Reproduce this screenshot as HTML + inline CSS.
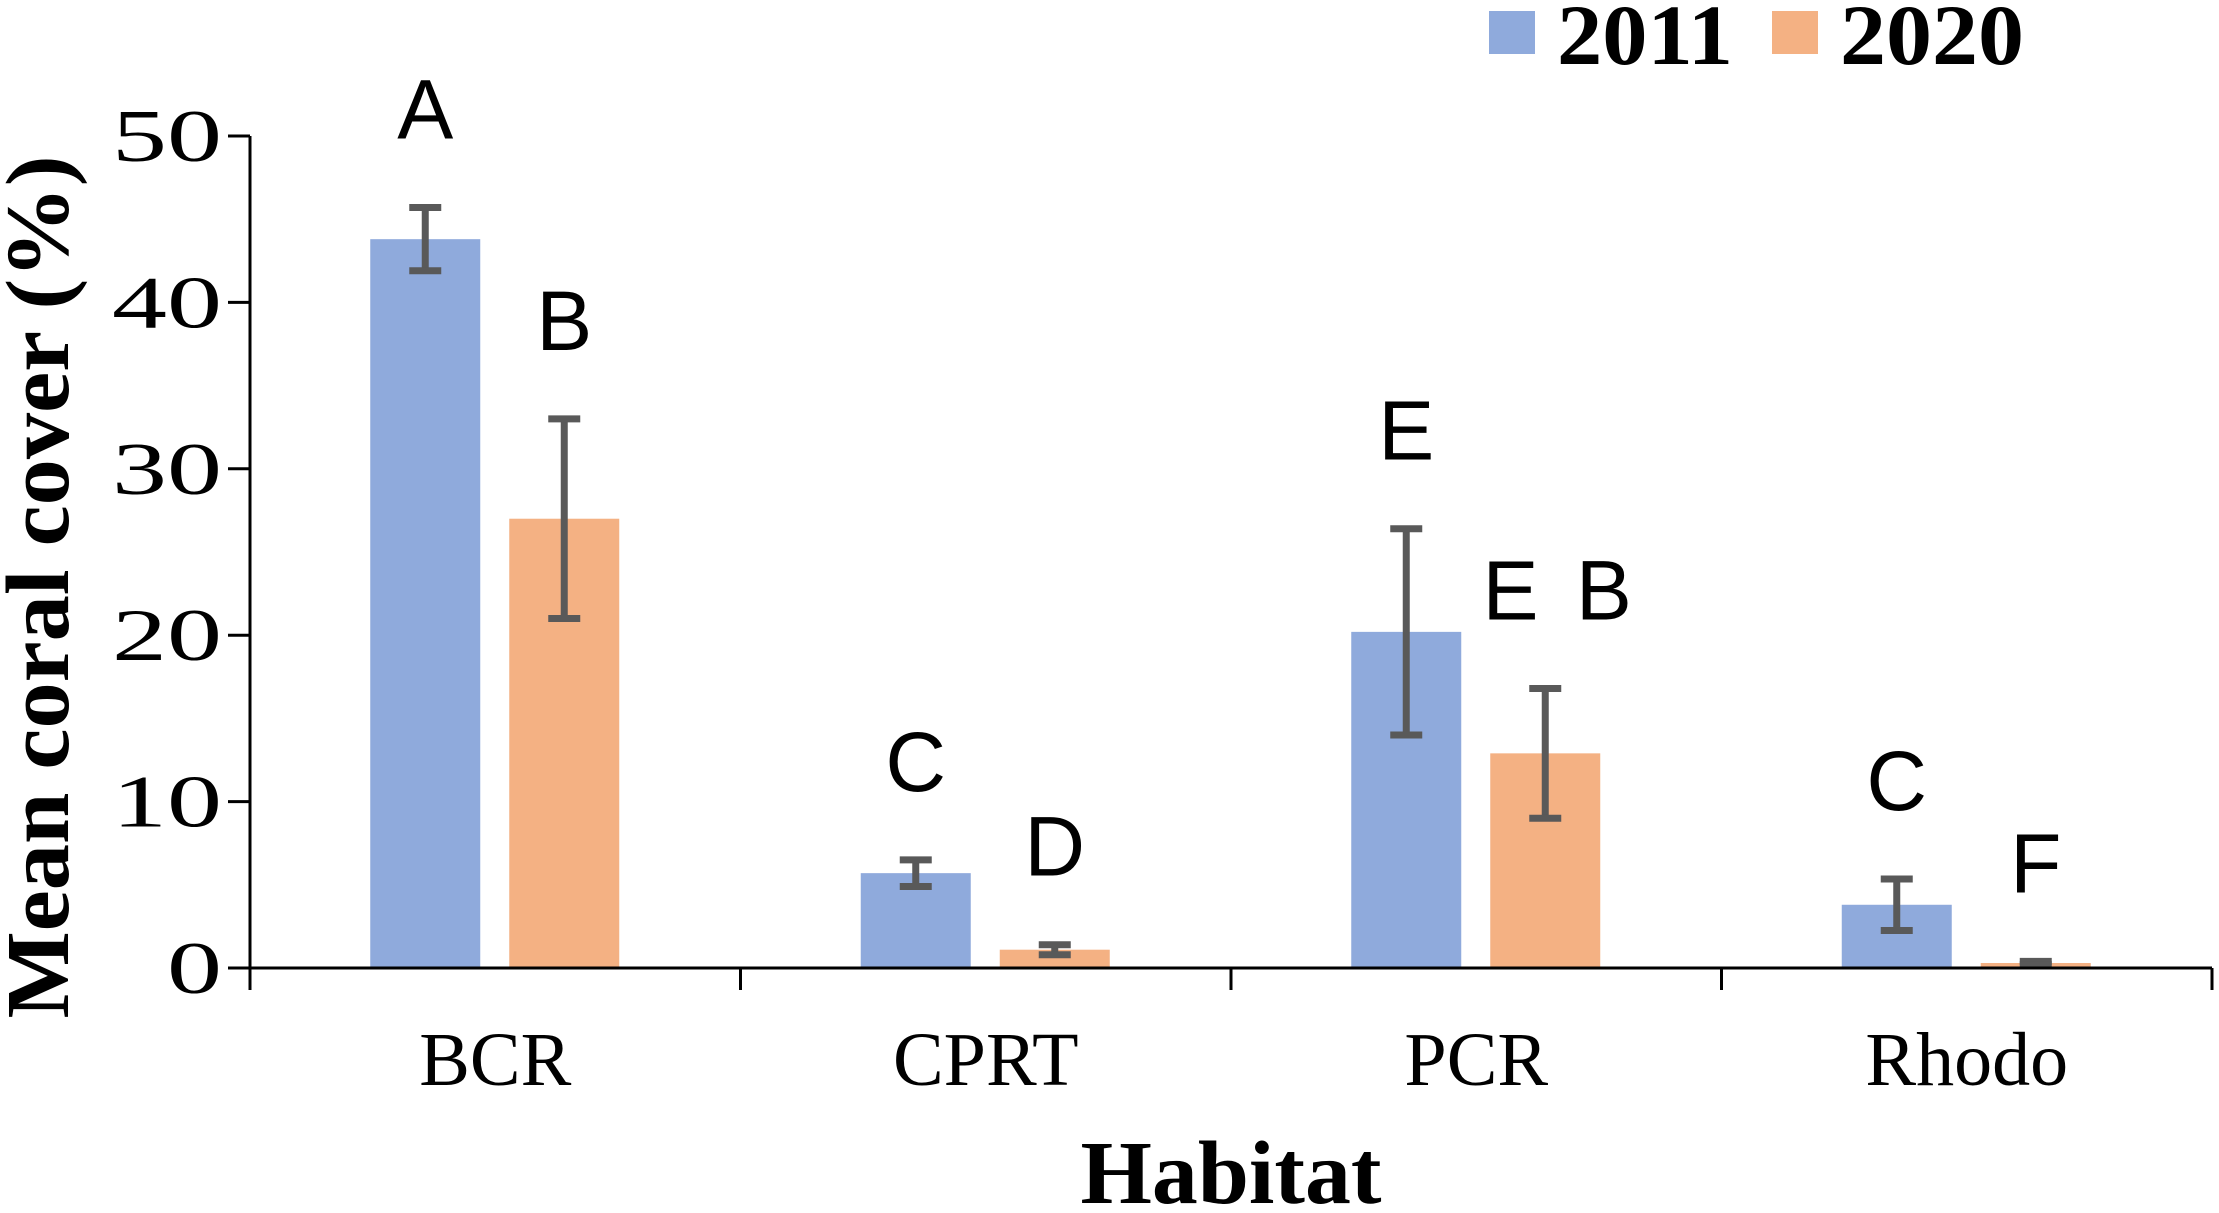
<!DOCTYPE html>
<html><head><meta charset="utf-8"><style>
html,body{margin:0;padding:0;background:#fff;}
svg{display:block;}
</style></head><body>
<svg id="chart" width="2219" height="1213" viewBox="0 0 2219 1213" xmlns="http://www.w3.org/2000/svg">
<g id="bars"></g>
<g id="axes"></g>
<g id="labels"></g>
<text transform="translate(68,587) rotate(-90)" text-anchor="middle" font-family="Liberation Serif, serif" font-weight="bold" font-size="90" textLength="863" lengthAdjust="spacingAndGlyphs">Mean coral cover (%)</text>
<text x="1231" y="1203" text-anchor="middle" font-family="Liberation Serif, serif" font-weight="bold" font-size="90" textLength="301" lengthAdjust="spacingAndGlyphs">Habitat</text>
<g>
<rect x="1489" y="11" width="46" height="43" fill="#8faadc"/>
<text x="1557" y="64" font-family="Liberation Serif, serif" font-weight="bold" font-size="86" textLength="176" lengthAdjust="spacingAndGlyphs">2011</text>
<rect x="1772" y="11" width="46" height="43" fill="#f4b183"/>
<text x="1840" y="64" font-family="Liberation Serif, serif" font-weight="bold" font-size="86" textLength="184" lengthAdjust="spacingAndGlyphs">2020</text>
</g>
</svg>
<script>
const categories = ["BCR", "CPRT", "PCR", "Rhodo"];
const values2011 = [43.8, 5.7, 20.2, 3.8];
const values2020 = [27.0, 1.1, 12.9, 0.3];
const err2011 = [1.9, 0.8, 6.2, 1.55];
const err2020 = [6.0, 0.3, 3.9, 0.1];
const letters2011 = ["A", "C", "E", "C"];
const letters2020 = ["B", "D", "E B", "F"];
const yTicks = [0, 10, 20, 30, 40, 50];

const NS = "http://www.w3.org/2000/svg";
const x0 = 250, xEnd = 2212, catW = (xEnd - x0) / categories.length;
const yBase = 968, yTop = 136, yMax = 50;
function yScale(v){ return yBase - v / yMax * (yBase - yTop); }
function catCenter(i){ return x0 + catW * (i + 0.5); }
function mk(tag, attrs, parent){
  const e = document.createElementNS(NS, tag);
  for (const k in attrs) e.setAttribute(k, attrs[k]);
  parent.appendChild(e);
  return e;
}
const bars = document.getElementById("bars");
const axes = document.getElementById("axes");
const labels = document.getElementById("labels");
const barW = 110;
const series = [
  {vals: values2011, errs: err2011, letters: letters2011, color: "#8faadc", off: -70, name: "2011"},
  {vals: values2020, errs: err2020, letters: letters2020, color: "#f4b183", off: 69, name: "2020"}
];
series.forEach(s => {
  categories.forEach((c, i) => {
    const cx = catCenter(i) + s.off;
    const yv = yScale(s.vals[i]);
    const r = mk("rect", {x: cx - barW/2, y: yv, width: barW, height: yBase - yv, fill: s.color}, bars);
    
    
    const g = mk("g", {stroke: "#595959", "stroke-width": 7}, bars);
    
    
    const yh = yScale(s.vals[i] + s.errs[i]), yl = yScale(s.vals[i] - s.errs[i]);
    mk("line", {x1: cx, x2: cx, y1: yh, y2: yl}, g);
    mk("line", {x1: cx - 16, x2: cx + 16, y1: yh, y2: yh}, g);
    mk("line", {x1: cx - 16, x2: cx + 16, y1: yl, y2: yl}, g);
    const t = mk("text", {x: cx + (s.letters[i].length > 1 ? 12 : 0), y: yh - 69, "text-anchor": "middle", "font-family": "Liberation Sans, sans-serif", "font-size": 84, "word-spacing": 14, fill: "#000"}, labels);
    t.textContent = s.letters[i];
    
    
  });
});
const ya = mk("line", {x1: x0, x2: x0, y1: yTop, y2: yBase + 22, stroke: "#000", "stroke-width": 3}, axes);


const xa = mk("line", {x1: x0 - 22, x2: xEnd, y1: yBase, y2: yBase, stroke: "#000", "stroke-width": 3}, axes);


yTicks.forEach(v => {
  const y = yScale(v);
  const tk = mk("line", {x1: x0 - 22, x2: x0, y1: y, y2: y, stroke: "#000", "stroke-width": 3}, axes);
  
  
  const s = String(v);
  const t = mk("text", {x: 222, y: y + 25, "text-anchor": "end", "font-family": "Liberation Serif, serif", "font-size": 74, textLength: 55 * s.length, lengthAdjust: "spacingAndGlyphs"}, axes);
  t.textContent = s;
  
  
});
for (let i = 0; i <= categories.length; i++) {
  const x = x0 + catW * i;
  const tk = mk("line", {x1: x, x2: x, y1: yBase, y2: yBase + 22, stroke: "#000", "stroke-width": 3}, axes);
  
  
}
categories.forEach((c, i) => {
  const t = mk("text", {x: catCenter(i), y: 1085, "text-anchor": "middle", "font-family": "Liberation Serif, serif", "font-size": 76}, axes);
  t.textContent = c;
  
  
});
</script>
</body></html>
